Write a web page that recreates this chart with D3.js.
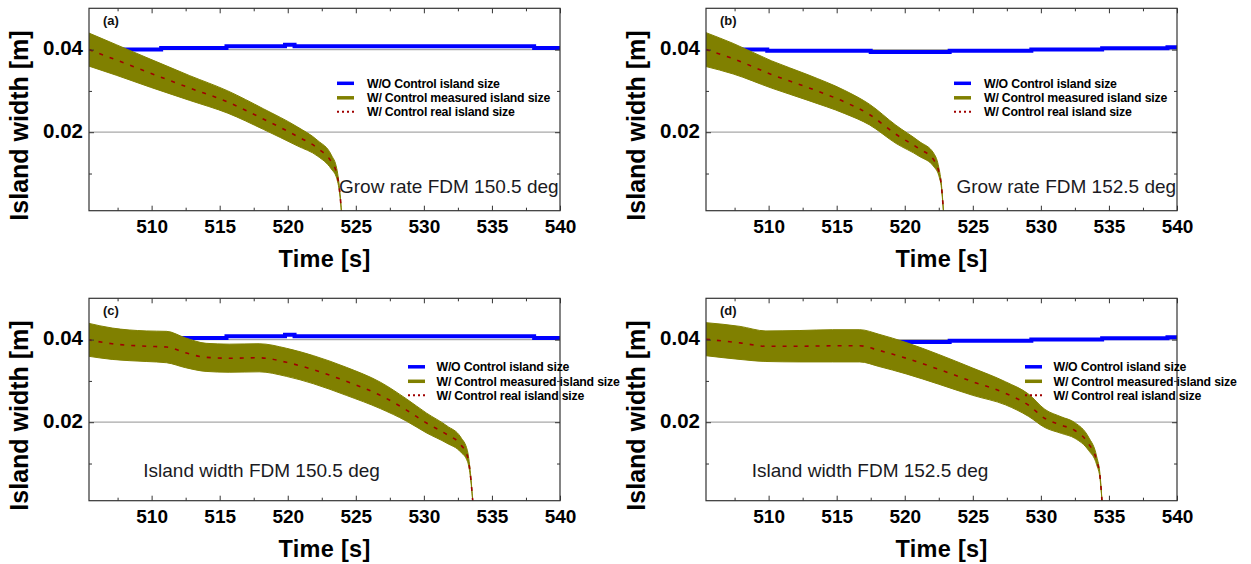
<!DOCTYPE html>
<html>
<head>
<meta charset="utf-8">
<script src="https://cdn.jsdelivr.net/npm/d3@7"></script>
<style>
  html, body { margin: 0; padding: 0; background: #fff; }
  svg { display: block; font-family: "Liberation Sans", Arial, sans-serif; }
</style>
</head>
<body>
<svg id="chart" width="1251" height="564"></svg>
<script>
// ---------------- DATA ----------------
const xTicks = [510, 515, 520, 525, 530, 535, 540];
const xMinorTicks = [507.5, 512.5, 517.5, 522.5, 527.5, 532.5, 537.5];
const yTicks = [0.02, 0.04];
const yTickLabels = ["0.02", "0.04"];
const yMinorTicks = [0.01, 0.03];
const seriesNames = ["W/O Control island size", "W/ Control measured island size", "W/ Control real island size"];
const panelLabels = ["(a)", "(b)", "(c)", "(d)"];
const panelNotes = ["Grow rate FDM 150.5 deg", "Grow rate FDM 152.5 deg", "Island width FDM 150.5 deg", "Island width FDM 152.5 deg"];
const xLabel = "Time [s]";
const yLabel = "Island width [m]";

// W/O control island size (step signal)
const blueTime150 = [505.4, 510.7, 515.5, 519.8, 520.5, 538.1, 540];
const blueValue150 = [0.0400, 0.0404, 0.0408, 0.0412, 0.0408, 0.0404, 0.0404];
const blueTime152 = [505.4, 509.9, 517.5, 523.3, 529.3, 534.5, 539.3, 540];
const blueValue152 = [0.0400, 0.0397, 0.0394, 0.0397, 0.0400, 0.0403, 0.0406, 0.0406];

// Panel (a): real island size and half width of the measured oscillation band
const timeA = [505.4, 507.4, 509.9, 512.8, 515.6, 518.2, 520.7, 522.2, 523.2, 523.6, 523.85, 523.95];
const realA = [0.0400, 0.0375, 0.0343, 0.0307, 0.0273, 0.0232, 0.0190, 0.0161, 0.0128, 0.0100, 0.0045, 0.0005];
const halfA = [0.0040, 0.0037, 0.0034, 0.0030, 0.0027, 0.0025, 0.0023, 0.0019, 0.0017, 0.0012, 0.0004, 0.0001];

// Panel (b)
const timeB = [505.4, 507.4, 510.2, 512.9, 515.6, 517.4, 519.35, 521.05, 522.15, 522.5, 522.7, 522.85];
const realB = [0.0400, 0.0378, 0.0340, 0.0308, 0.0273, 0.0243, 0.0195, 0.0160, 0.0132, 0.0105, 0.0068, 0.0005];
const halfB = [0.0041, 0.0037, 0.0033, 0.0031, 0.0028, 0.0025, 0.0022, 0.0018, 0.0016, 0.0010, 0.0004, 0.0001];

// Panel (c)
const timeC = [505.3, 507.1, 509.6, 511.1, 512.5, 514.0, 515.7, 517.9, 519.9, 521.9, 524.3, 526.8, 528.7, 530.2, 531.7, 532.7, 533.2, 533.4, 533.6];
const realC = [0.0400, 0.0390, 0.0384, 0.0382, 0.0368, 0.0357, 0.0355, 0.0356, 0.0345, 0.0327, 0.0299, 0.0265, 0.0230, 0.0198, 0.0170, 0.0146, 0.0118, 0.0078, 0.0005];
const halfC = [0.0040, 0.0038, 0.0037, 0.0038, 0.0036, 0.0034, 0.0034, 0.0034, 0.0034, 0.0034, 0.0034, 0.0032, 0.0027, 0.0024, 0.0021, 0.0018, 0.0013, 0.0006, 0.0001];

// Panel (d)
const timeD = [505.4, 507.9, 509.8, 512.3, 514.7, 516.7, 518.1, 520.1, 522.5, 525.0, 527.4, 529.1, 530.3, 531.5, 532.5, 533.5, 534.1, 534.35, 534.5];
const realD = [0.0401, 0.0392, 0.0384, 0.0384, 0.0385, 0.0385, 0.0374, 0.0355, 0.0328, 0.0298, 0.0270, 0.0241, 0.0209, 0.0193, 0.0180, 0.0148, 0.0107, 0.0067, 0.0005];
const halfD = [0.0040, 0.0040, 0.0037, 0.0038, 0.0039, 0.0039, 0.0039, 0.0038, 0.0036, 0.0033, 0.0028, 0.0027, 0.0022, 0.0020, 0.0019, 0.0016, 0.0010, 0.0005, 0.0001];

const xDomain = [505.4, 540];
const yDomain = [0.001, 0.050];

// ---------------- LAYOUT ----------------
const W = 471, H = 202.4;
const panels = [
  { x0: 89,  y0: 8.3,   t: timeA, r: realA, h: halfA, bt: blueTime150, bv: blueValue150, leg: { lx: 248, tx: 278, ry: [75, 89.5, 103.5] }, note: { x: 250, y: 184.5 } },
  { x0: 706, y0: 8.3,   t: timeB, r: realB, h: halfB, bt: blueTime152, bv: blueValue152, leg: { lx: 248, tx: 278, ry: [75, 89.5, 103.5] }, note: { x: 250.5, y: 184.5 } },
  { x0: 89,  y0: 298.3, t: timeC, r: realC, h: halfC, bt: blueTime150, bv: blueValue150, leg: { lx: 319, tx: 347.5, ry: [68.5, 83, 97] }, note: { x: 54.3, y: 178.4 } },
  { x0: 706, y0: 298.3, t: timeD, r: realD, h: halfD, bt: blueTime152, bv: blueValue152, leg: { lx: 319, tx: 347.5, ry: [68.5, 83, 97] }, note: { x: 45.7, y: 178.4 } }
];

const svg = d3.select("#chart");
const x = d3.scaleLinear().domain(xDomain).range([0, W]);
const y = d3.scaleLinear().domain(yDomain).range([H, 0]);

const colBlue = "#0000ff", colOlive = "#808000", colRed = "#a00000";

panels.forEach((p, i) => {
  const g = svg.append("g").attr("transform", `translate(${p.x0},${p.y0})`);
  const clipId = "clip" + i;
  g.append("clipPath").attr("id", clipId).append("rect").attr("width", W).attr("height", H);

  // grid lines at major y ticks
  g.append("g").selectAll("line").data(yTicks).join("line")
    .attr("x1", 0).attr("x2", W)
    .attr("y1", d => y(d)).attr("y2", d => y(d))
    .attr("stroke", "#a8a8a8").attr("stroke-width", 1.3);

  const plot = g.append("g").attr("clip-path", `url(#${clipId})`);

  // blue step line
  const blueData = p.bt.map((t, k) => [t, p.bv[k]]);
  plot.append("path").datum(blueData)
    .attr("fill", "none").attr("stroke", colBlue).attr("stroke-width", 4)
    .attr("d", d3.line().x(d => x(d[0])).y(d => y(d[1])).curve(d3.curveStepAfter));

  // measured band
  const bandData = p.t.map((t, k) => ({ t: t, r: p.r[k], h: p.h[k] }));
  plot.append("path").datum(bandData)
    .attr("fill", colOlive).attr("stroke", colOlive).attr("stroke-width", 1)
    .attr("d", d3.area().x(d => x(d.t)).y0(d => y(d.r - d.h)).y1(d => y(d.r + d.h)).curve(d3.curveMonotoneX));

  // real island size (dashed)
  plot.append("path").datum(bandData)
    .attr("fill", "none").attr("stroke", colRed).attr("stroke-width", 1.6)
    .attr("stroke-dasharray", "4,7")
    .attr("d", d3.line().x(d => x(d.t)).y(d => y(d.r)).curve(d3.curveMonotoneX));

  // axes with inward ticks
  const fmtNone = () => "";
  const bottom = g.append("g").attr("transform", `translate(0,${H})`)
    .call(d3.axisBottom(x).tickValues(xTicks).tickSize(-5).tickPadding(9).tickFormat(d3.format("d")));
  bottom.selectAll("text").attr("font-size", 19).attr("font-weight", "bold").attr("fill", "#000")
    .attr("dy", null).attr("y", 22.5);
  g.append("g").attr("transform", `translate(0,${H})`)
    .call(d3.axisBottom(x).tickValues(xMinorTicks).tickSize(-3).tickFormat(fmtNone));
  g.append("g").call(d3.axisTop(x).tickValues(xTicks).tickSize(-5).tickFormat(fmtNone));
  g.append("g").call(d3.axisTop(x).tickValues(xMinorTicks).tickSize(-3).tickFormat(fmtNone));

  const left = g.append("g")
    .call(d3.axisLeft(y).tickValues(yTicks).tickSize(-5).tickPadding(6).tickFormat((d, k) => yTickLabels[k]));
  left.selectAll("text").attr("font-size", 20.5).attr("font-weight", "bold").attr("fill", "#000")
    .attr("dy", null).attr("y", 5);
  g.append("g").call(d3.axisLeft(y).tickValues(yMinorTicks).tickSize(-3).tickFormat(fmtNone));
  g.append("g").attr("transform", `translate(${W},0)`)
    .call(d3.axisRight(y).tickValues(yTicks).tickSize(-5).tickFormat(fmtNone));
  g.append("g").attr("transform", `translate(${W},0)`)
    .call(d3.axisRight(y).tickValues(yMinorTicks).tickSize(-3).tickFormat(fmtNone));

  g.selectAll(".domain").remove();
  g.selectAll(".tick line").attr("stroke", "#333");

  // frame
  g.append("rect").attr("width", W).attr("height", H)
    .attr("fill", "none").attr("stroke", "#333").attr("stroke-width", 1.2);

  // panel label
  g.append("text").attr("x", 14).attr("y", 16.5)
    .attr("font-size", 13).attr("font-weight", "bold").attr("fill", "#111").text(panelLabels[i]);

  // note
  g.append("text").attr("x", p.note.x).attr("y", p.note.y)
    .attr("font-size", 19).attr("fill", "#1a1a22").text(panelNotes[i]);

  // legend
  const legStyles = [
    { c: colBlue, w: 3.5, dash: null },
    { c: colOlive, w: 3.5, dash: null },
    { c: colRed, w: 2, dash: "2,3" }
  ];
  seriesNames.forEach((name, k) => {
    const ly = p.leg.ry[k];
    g.append("line").attr("x1", p.leg.lx).attr("x2", p.leg.lx + 17)
      .attr("y1", ly).attr("y2", ly)
      .attr("stroke", legStyles[k].c).attr("stroke-width", legStyles[k].w)
      .attr("stroke-dasharray", legStyles[k].dash);
    g.append("text").attr("x", p.leg.tx).attr("y", ly + 4.4)
      .attr("font-size", 12.3).attr("font-weight", "bold").attr("fill", "#000")
      .attr("letter-spacing", -0.2).text(name);
  });

  // axis titles
  g.append("text").attr("x", W / 2).attr("y", H + 56)
    .attr("text-anchor", "middle").attr("font-size", 23.5).attr("font-weight", "bold")
    .attr("fill", "#000").attr("letter-spacing", 0.3).text(xLabel);
  g.append("text").attr("transform", `translate(-61.3,${H / 2 + 16}) rotate(-90)`)
    .attr("text-anchor", "middle").attr("font-size", 25).attr("font-weight", "bold")
    .attr("fill", "#000").text(yLabel);
});
</script>
</body>
</html>
